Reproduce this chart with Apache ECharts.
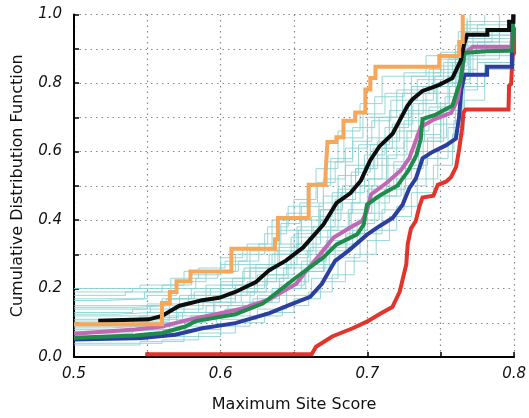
<!DOCTYPE html>
<html>
<head>
<meta charset="utf-8">
<script src="https://cdn.jsdelivr.net/npm/echarts@6/dist/echarts.min.js"></script>
<style>html,body{margin:0;padding:0;background:#fff}#c{width:529px;height:418px}</style>
</head>
<body>
<div id="c"></div>
<script>
// ---- data ----
const xTicks = [0.5, 0.6, 0.7, 0.8];
const yTicks = [0.0, 0.2, 0.4, 0.6, 0.8, 1.0];

const orange = [[0.5,0.096],[0.56,0.158],[0.5653,0.19],[0.5699,0.221],[0.5794,0.25],[0.6073,0.316],[0.637,0.344],[0.639,0.406],[0.660,0.503],[0.6715,0.537],[0.6728,0.628],[0.6789,0.642],[0.6837,0.69],[0.6917,0.714],[0.6986,0.781],[0.702,0.815],[0.7055,0.848],[0.749,0.879],[0.7626,0.92],[0.765,1.0]];

const black = [[0.5165,0.106],[0.551,0.11],[0.56,0.12],[0.5715,0.149],[0.5875,0.166],[0.599,0.173],[0.61,0.19],[0.624,0.219],[0.633,0.253],[0.6447,0.282],[0.6562,0.32],[0.670,0.387],[0.679,0.45],[0.6883,0.478],[0.6955,0.515],[0.702,0.575],[0.7082,0.615],[0.7172,0.652],[0.7274,0.734],[0.7308,0.753],[0.7376,0.777],[0.749,0.795],[0.758,0.815],[0.7637,0.866],[0.766,0.915],[0.768,0.941],[0.7818,0.941],[0.7818,0.955],[0.7966,0.955],[0.7966,0.979],[0.7995,0.979],[0.7995,1.0]];

const pink = [[0.5,0.068],[0.5417,0.08],[0.56,0.089],[0.5783,0.109],[0.599,0.127],[0.615,0.142],[0.633,0.168],[0.6516,0.214],[0.6562,0.24],[0.666,0.291],[0.677,0.349],[0.6883,0.378],[0.6963,0.397],[0.6997,0.426],[0.7025,0.475],[0.713,0.508],[0.7227,0.545],[0.7285,0.58],[0.733,0.632],[0.7364,0.672],[0.7456,0.694],[0.757,0.713],[0.7616,0.752],[0.765,0.848],[0.7662,0.887],[0.772,0.906],[0.7983,0.906],[0.7995,1.0]];

const green = [[0.5,0.056],[0.5417,0.0625],[0.56,0.07],[0.576,0.089],[0.583,0.105],[0.61,0.125],[0.6287,0.156],[0.6516,0.233],[0.670,0.291],[0.679,0.329],[0.693,0.358],[0.6975,0.387],[0.6997,0.445],[0.709,0.473],[0.7204,0.5],[0.728,0.545],[0.7335,0.59],[0.7364,0.637],[0.7376,0.695],[0.7467,0.708],[0.7535,0.724],[0.758,0.734],[0.7637,0.811],[0.766,0.888],[0.7807,0.893],[0.7988,0.895],[0.7995,1.0]];

const blue = [[0.5,0.051],[0.546,0.0556],[0.569,0.065],[0.5875,0.084],[0.61,0.099],[0.6333,0.128],[0.647,0.152],[0.661,0.176],[0.669,0.214],[0.6715,0.233],[0.678,0.281],[0.687,0.31],[0.7,0.358],[0.7082,0.382],[0.7172,0.406],[0.724,0.445],[0.7286,0.493],[0.7331,0.522],[0.7376,0.58],[0.7444,0.599],[0.7535,0.618],[0.7603,0.638],[0.7625,0.70],[0.764,0.78],[0.7663,0.824],[0.7816,0.824],[0.7816,0.848],[0.7985,0.848],[0.7985,0.92],[0.7995,1.0]];

const red = [[0.5485,0.008],[0.662,0.008],[0.665,0.03],[0.676,0.06],[0.69,0.084],[0.7,0.104],[0.709,0.127],[0.717,0.146],[0.722,0.19],[0.7265,0.27],[0.7275,0.33],[0.7297,0.375],[0.733,0.397],[0.7355,0.44],[0.7376,0.466],[0.745,0.471],[0.748,0.503],[0.7535,0.512],[0.757,0.525],[0.7605,0.555],[0.7626,0.608],[0.7645,0.666],[0.7655,0.714],[0.767,0.723],[0.7962,0.723],[0.7966,0.792],[0.798,0.797],[0.7989,0.878],[0.8,0.888],[0.8,0.963]];

const cyan1 = [[0.5,0.20],[0.545,0.21],[0.575,0.25],[0.6,0.29],[0.615,0.32],[0.635,0.40],[0.65,0.46],[0.665,0.55],[0.68,0.66],[0.695,0.74],[0.71,0.82],[0.74,0.88],[0.762,0.95],[0.77,1.0]];
const cyan2 = [[0.5,0.17],[0.55,0.18],[0.57,0.22],[0.59,0.25],[0.61,0.30],[0.63,0.36],[0.645,0.42],[0.66,0.50],[0.675,0.58],[0.69,0.67],[0.705,0.76],[0.725,0.83],[0.75,0.89],[0.765,0.97],[0.78,1.0]];
const cyan3 = [[0.5,0.15],[0.56,0.17],[0.58,0.20],[0.6,0.23],[0.62,0.27],[0.64,0.33],[0.655,0.40],[0.67,0.47],[0.685,0.56],[0.7,0.64],[0.715,0.72],[0.73,0.79],[0.755,0.87],[0.765,0.93],[0.79,0.98]];
const cyan4 = [[0.5,0.13],[0.54,0.14],[0.565,0.17],[0.59,0.21],[0.615,0.25],[0.635,0.30],[0.65,0.36],[0.668,0.43],[0.683,0.50],[0.698,0.59],[0.712,0.67],[0.728,0.75],[0.745,0.83],[0.763,0.90],[0.8,0.97]];
const cyan5 = [[0.5,0.12],[0.55,0.13],[0.575,0.16],[0.6,0.19],[0.625,0.24],[0.645,0.29],[0.66,0.35],[0.675,0.42],[0.69,0.50],[0.705,0.58],[0.72,0.66],[0.735,0.74],[0.755,0.82],[0.765,0.92],[0.785,0.96]];
const cyan6 = [[0.5,0.10],[0.53,0.11],[0.56,0.13],[0.585,0.16],[0.61,0.20],[0.63,0.24],[0.65,0.30],[0.665,0.37],[0.68,0.45],[0.695,0.52],[0.71,0.61],[0.725,0.69],[0.74,0.77],[0.76,0.85],[0.768,0.94],[0.8,0.99]];
const cyan7 = [[0.5,0.09],[0.545,0.10],[0.57,0.12],[0.595,0.15],[0.62,0.19],[0.64,0.23],[0.655,0.28],[0.672,0.34],[0.688,0.42],[0.703,0.50],[0.718,0.57],[0.733,0.65],[0.75,0.74],[0.763,0.84],[0.775,0.92],[0.8,0.96]];
const cyan8 = [[0.5,0.08],[0.555,0.09],[0.58,0.12],[0.605,0.15],[0.625,0.18],[0.645,0.22],[0.66,0.27],[0.678,0.33],[0.693,0.40],[0.708,0.47],[0.723,0.55],[0.738,0.63],[0.752,0.72],[0.764,0.82],[0.772,0.90],[0.8,0.95]];
const cyan9 = [[0.5,0.07],[0.54,0.08],[0.565,0.10],[0.59,0.13],[0.615,0.16],[0.635,0.20],[0.655,0.25],[0.67,0.31],[0.685,0.37],[0.7,0.45],[0.715,0.52],[0.73,0.60],[0.745,0.68],[0.76,0.77],[0.766,0.87],[0.79,0.93]];
const cyan10 = [[0.5,0.05],[0.55,0.06],[0.575,0.08],[0.6,0.11],[0.625,0.14],[0.645,0.18],[0.662,0.23],[0.68,0.29],[0.695,0.36],[0.71,0.43],[0.725,0.50],[0.74,0.58],[0.755,0.67],[0.765,0.78],[0.775,0.86],[0.8,0.92]];
const cyan11 = [[0.5,0.04],[0.56,0.05],[0.585,0.07],[0.61,0.10],[0.63,0.13],[0.65,0.17],[0.668,0.22],[0.685,0.28],[0.7,0.34],[0.715,0.41],[0.73,0.48],[0.745,0.56],[0.758,0.65],[0.766,0.75],[0.78,0.84],[0.8,0.90]];
const cyan12 = [[0.5,0.18],[0.535,0.19],[0.56,0.21],[0.58,0.24],[0.6,0.27],[0.62,0.31],[0.64,0.37],[0.655,0.44],[0.67,0.52],[0.685,0.61],[0.7,0.70],[0.72,0.78],[0.745,0.85],[0.76,0.91],[0.768,0.99]];
const cyan13 = [[0.5,0.11],[0.545,0.12],[0.57,0.15],[0.595,0.18],[0.618,0.22],[0.638,0.27],[0.652,0.33],[0.668,0.40],[0.682,0.48],[0.698,0.56],[0.713,0.64],[0.73,0.72],[0.748,0.80],[0.762,0.88],[0.772,0.95],[0.8,0.98]];
const cyan14 = [[0.5,0.14],[0.55,0.155],[0.578,0.18],[0.6,0.21],[0.62,0.26],[0.637,0.31],[0.652,0.38],[0.667,0.45],[0.68,0.53],[0.694,0.62],[0.708,0.70],[0.724,0.77],[0.742,0.84],[0.76,0.89],[0.766,0.96],[0.79,1.0]];
const cyan15 = [[0.5,0.06],[0.548,0.07],[0.572,0.09],[0.597,0.12],[0.62,0.16],[0.64,0.20],[0.658,0.26],[0.674,0.32],[0.69,0.39],[0.705,0.47],[0.72,0.55],[0.735,0.63],[0.75,0.71],[0.762,0.80],[0.77,0.89],[0.8,0.94]];
const cyan16 = [[0.5,0.095],[0.54,0.105],[0.565,0.14],[0.588,0.17],[0.61,0.21],[0.632,0.26],[0.648,0.31],[0.663,0.38],[0.678,0.46],[0.692,0.55],[0.707,0.63],[0.722,0.71],[0.738,0.79],[0.758,0.86],[0.767,0.93],[0.8,0.97]];
const cyan17 = [[0.5,0.165],[0.52,0.17],[0.548,0.19],[0.566,0.2],[0.583,0.23],[0.598,0.25],[0.612,0.28],[0.626,0.33],[0.641,0.39],[0.654,0.45],[0.666,0.51],[0.678,0.57],[0.69,0.63],[0.703,0.69],[0.716,0.75],[0.734,0.81],[0.752,0.86],[0.764,0.94],[0.775,0.97],[0.8,0.99]];
const cyan18 = [[0.5,0.125],[0.53,0.13],[0.552,0.15],[0.572,0.18],[0.593,0.2],[0.608,0.23],[0.624,0.27],[0.639,0.32],[0.653,0.37],[0.667,0.43],[0.68,0.49],[0.692,0.55],[0.704,0.61],[0.717,0.68],[0.731,0.74],[0.747,0.8],[0.761,0.86],[0.767,0.95],[0.8,0.98]];
const cyan19 = [[0.5,0.085],[0.525,0.09],[0.55,0.11],[0.574,0.13],[0.596,0.16],[0.614,0.19],[0.631,0.23],[0.646,0.27],[0.661,0.32],[0.675,0.38],[0.689,0.45],[0.701,0.52],[0.714,0.59],[0.727,0.66],[0.742,0.73],[0.756,0.79],[0.765,0.88],[0.78,0.94],[0.8,0.97]];
const cyan20 = [[0.5,0.075],[0.535,0.08],[0.561,0.1],[0.583,0.12],[0.603,0.14],[0.622,0.17],[0.64,0.21],[0.657,0.25],[0.671,0.3],[0.686,0.36],[0.698,0.42],[0.712,0.49],[0.726,0.56],[0.741,0.64],[0.754,0.72],[0.763,0.81],[0.77,0.88],[0.8,0.93]];
const cyan21 = [[0.5,0.19],[0.54,0.2],[0.566,0.23],[0.585,0.26],[0.603,0.28],[0.618,0.33],[0.632,0.38],[0.646,0.44],[0.659,0.5],[0.671,0.57],[0.684,0.64],[0.697,0.71],[0.712,0.77],[0.73,0.82],[0.75,0.87],[0.763,0.92],[0.768,0.98],[0.8,1.0]];
const cyan22 = [[0.5,0.035],[0.545,0.045],[0.575,0.06],[0.6,0.09],[0.62,0.12],[0.642,0.15],[0.66,0.19],[0.676,0.24],[0.691,0.3],[0.706,0.37],[0.72,0.44],[0.734,0.52],[0.748,0.6],[0.759,0.69],[0.766,0.79],[0.78,0.86],[0.8,0.9]];
const cyan23 = [[0.5,0.145],[0.542,0.15],[0.563,0.17],[0.582,0.19],[0.6,0.22],[0.616,0.26],[0.633,0.3],[0.648,0.35],[0.662,0.41],[0.676,0.48],[0.689,0.54],[0.702,0.62],[0.715,0.7],[0.73,0.77],[0.746,0.82],[0.76,0.87],[0.766,0.92],[0.79,0.96]];
const cyan24 = [[0.5,0.105],[0.55,0.115],[0.571,0.13],[0.59,0.15],[0.607,0.18],[0.623,0.22],[0.643,0.26],[0.659,0.31],[0.673,0.37],[0.687,0.43],[0.7,0.49],[0.713,0.56],[0.725,0.63],[0.739,0.7],[0.753,0.76],[0.763,0.83],[0.769,0.91],[0.8,0.96]];
const cyanRuns = [cyan1,cyan2,cyan3,cyan4,cyan5,cyan6,cyan7,cyan8,cyan9,cyan10,cyan11,cyan12,cyan13,cyan14,cyan15,cyan16,cyan17,cyan18,cyan19,cyan20,cyan21,cyan22,cyan23,cyan24];

// ---- chart ----
const chart = echarts.init(document.getElementById('c'), null, {renderer:'canvas'});
const isTick = (v, arr) => arr.some(t => Math.abs(t - v) < 1e-6);
const series = [];
cyanRuns.forEach((d) => series.push({
  type:'line', data:d, step:'end', symbol:'none', silent:true,
  lineStyle:{color:'#86d0d0', width:1, opacity:0.85}, z:1
}));
const main = [
  {d:red, c:'#e3342b', step:false},
  {d:blue, c:'#2c3f9e', step:false},
  {d:pink, c:'#c168b4', step:false},
  {d:green, c:'#1f8c4c', step:false},
  {d:black, c:'#0d0d0d', step:false},
  {d:orange, c:'#f6a75a', step:'end'}
];
main.forEach((m, i) => series.push({
  type:'line', data:m.d, step:m.step, symbol:'none', silent:true,
  lineStyle:{color:m.c, width:4, join:'miter'}, z:2 + i
}));

const labelFont = {fontFamily:'DejaVu Sans', fontStyle:'italic', fontSize:15, color:'#111'};
chart.setOption({
  animation:false,
  backgroundColor:'#fff',
  grid:{left:74, right:14, top:14.6, bottom:57.4, containLabel:false},
  xAxis:{
    type:'value', min:0.5, max:0.8, interval:0.05,
    name:'Maximum Site Score', nameLocation:'middle', nameGap:40,
    nameTextStyle:{fontFamily:'DejaVu Sans', fontSize:16, color:'#111'},
    axisLine:{show:true, onZero:false, lineStyle:{color:'#000', width:2}},
    axisTick:{show:true, inside:true, length:5, lineStyle:{color:'#000', width:1.5}},
    axisLabel:Object.assign({margin:10, showMaxLabel:true, showMinLabel:true,
      formatter:(v) => isTick(v, xTicks) ? v.toFixed(1) : ''}, labelFont),
    splitLine:{show:true, lineStyle:{color:'#888', type:[1.5,4], width:1.2}}
  },
  yAxis:{
    type:'value', min:0, max:1, interval:0.1,
    name:'Cumulative Distribution Function', nameLocation:'middle', nameGap:48,
    nameTextStyle:{fontFamily:'DejaVu Sans', fontSize:16, color:'#111'},
    axisLine:{show:true, lineStyle:{color:'#000', width:2}},
    axisTick:{show:true, inside:true, length:5, lineStyle:{color:'#000', width:1.5}},
    axisLabel:Object.assign({margin:12,
      formatter:(v) => isTick(v, yTicks) ? v.toFixed(1) : ''}, labelFont),
    splitLine:{show:true, lineStyle:{color:'#888', type:[1.5,4], width:1.2}}
  },
  series:series
});
</script>
</body>
</html>
